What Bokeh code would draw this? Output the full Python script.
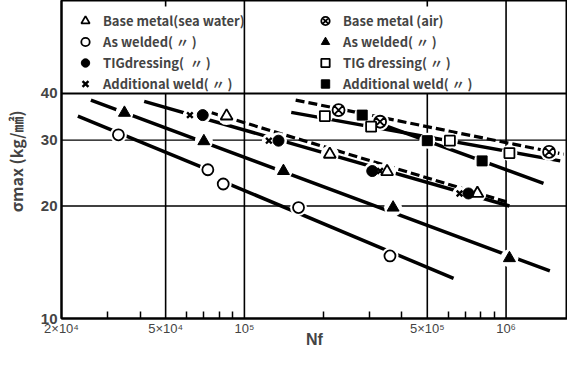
from bokeh.plotting import figure
from bokeh.models import FixedTicker, Legend, LegendItem, Range1d
from bokeh.embed import file_html
from bokeh.resources import INLINE

# ---------------- data ----------------
# sea water
bm_sea_n = [8.55e4, 2.12e5, 3.51e5, 7.77e5]
bm_sea_s = [34.8, 27.5, 24.7, 21.6]
aw_sea_n = [3.3e4, 7.25e4, 8.3e4, 1.61e5, 3.6e5]
aw_sea_s = [31.0, 25.0, 22.9, 19.8, 14.7]
tig_sea_n = [6.93e4, 1.35e5, 3.08e5, 7.18e5]
tig_sea_s = [35.0, 29.9, 24.8, 21.6]
add_sea_n = [6.19e4, 1.24e5, 3.3e5, 6.64e5]
add_sea_s = [35.0, 29.9, 24.8, 21.6]
# air
bm_air_n = [2.29e5, 3.3e5, 1.46e6]
bm_air_s = [36.1, 33.6, 27.9]
aw_air_n = [3.48e4, 7.0e4, 1.41e5, 3.7e5, 1.03e6]
aw_air_s = [35.5, 29.8, 24.8, 19.8, 14.5]
tig_air_n = [2.03e5, 3.05e5, 6.1e5, 1.03e6]
tig_air_s = [34.8, 32.6, 29.9, 27.7]
add_air_n = [2.82e5, 5.0e5, 8.1e5]
add_air_s = [35.0, 29.9, 26.4]

# fitted S-N lines (start / end of each line)
solid_n0 = [2.59e4, 2.31e4, 8.6e4, 4.14e4, 1.51e5, 3.45e5]
solid_n1 = [1.47e6, 7.25e4, 6.3e5, 1.03e6, 1.61e6, 1.39e6]
solid_s0 = [38.4, 34.8, 23.0, 38.1, 35.6, 32.8]
solid_s1 = [13.4, 25.0, 12.8, 20.0, 26.4, 23.0]
dash_n0 = [7.5e4, 1.57e5]
dash_n1 = [1.03e6, 1.66e6]
dash_s0 = [35.5, 38.4]
dash_s1 = [20.4, 27.5]

# axes
x_lo, x_hi = 2e4, 1.717e6
y_lo, y_hi = 10, 70.9
x_ticks = [2e4, 5e4, 1e5, 5e5, 1e6]
x_tick_labels = ["2×10⁴", "5×10⁴", "10⁵", "5×10⁵", "10⁶"]
x_minor = [3e4, 4e4, 6e4, 7e4, 8e4, 9e4, 2e5, 3e5, 4e5, 6e5, 7e5, 8e5, 9e5]
top_ticks = [5e4, 5e5]
y_ticks = [10, 20, 30, 40]
y_tick_labels = ["10", "20", "30", "40"]
grid_short_x = [5e4, 5e5]
grid_long_x = [1e5, 1e6]
grid_y = [20, 30]
legend_box_y = 40

FONT = "Noto Sans CJK JP"
LFONT = "Liberation Sans"
FRAME_W, FRAME_H = 506, 318

p = figure(frame_width=FRAME_W, frame_height=FRAME_H, x_axis_type="log", y_axis_type="log",
           x_range=Range1d(x_lo, x_hi), y_range=Range1d(y_lo, y_hi),
           output_backend="svg", toolbar_location=None,
           min_border_left=54, min_border_right=0, min_border_top=0, min_border_bottom=0)
p.xgrid.visible = False
p.ygrid.visible = False
p.outline_line_color = "black"
p.outline_line_width = 2
p.background_fill_color = "white"
p.border_fill_color = "white"

# axes
xa = p.xaxis[0]
xa.ticker = FixedTicker(ticks=x_ticks, minor_ticks=x_minor)
xa.major_label_overrides = {t: l for t, l in zip(x_ticks, x_tick_labels)}
xa.major_tick_in = 0
xa.major_tick_out = 0
xa.minor_tick_in = 7
xa.minor_tick_out = 0
xa.minor_tick_line_width = 1.5
xa.axis_line_width = 2
xa.major_label_text_font = LFONT
xa.major_label_text_font_size = "13px"
xa.major_label_standoff = 2
xa.axis_label = "Nf"
xa.axis_label_text_font = LFONT
xa.axis_label_text_font_size = "16px"
xa.axis_label_text_font_style = "bold"
xa.axis_label_standoff = -8

ya = p.yaxis[0]
ya.ticker = FixedTicker(ticks=y_ticks, minor_ticks=[])
ya.major_label_overrides = {t: l for t, l in zip(y_ticks, y_tick_labels)}
ya.major_tick_in = 0
ya.major_tick_out = 0
ya.axis_line_width = 2
ya.major_label_text_font = LFONT
ya.major_label_text_font_style = "bold"
ya.major_label_text_font_size = "15px"
ya.major_label_standoff = 4
ya.axis_label = "σmax  (kg/㎟)"
ya.axis_label_text_font = FONT
ya.axis_label_text_font_size = "16px"
ya.axis_label_text_font_style = "bold"
ya.axis_label_standoff = 10

# short inward ticks on the top edge (6 px long)
px_per_decade = FRAME_H / 0.8506
top_tick_end = y_hi * 10 ** (-6 / px_per_decade)
p.segment(x0=top_ticks, x1=top_ticks, y0=[y_hi] * len(top_ticks),
          y1=[top_tick_end] * len(top_ticks), line_color="black", line_width=1.6)

# grid lines
p.segment(x0=grid_short_x, x1=grid_short_x, y0=[y_lo] * len(grid_short_x),
          y1=[legend_box_y] * len(grid_short_x), line_color="black", line_width=1.6)
p.segment(x0=grid_long_x, x1=grid_long_x, y0=[y_lo] * len(grid_long_x),
          y1=[y_hi] * len(grid_long_x), line_color="black", line_width=1.6)
p.segment(x0=[x_lo] * len(grid_y), x1=[x_hi] * len(grid_y), y0=grid_y, y1=grid_y,
          line_color="black", line_width=1.4)
p.segment(x0=[x_lo], x1=[x_hi], y0=[legend_box_y], y1=[legend_box_y],
          line_color="black", line_width=2)

# S-N lines
p.segment(x0=solid_n0, x1=solid_n1, y0=solid_s0, y1=solid_s1,
          line_color="black", line_width=3.5)
p.segment(x0=dash_n0, x1=dash_n1, y0=dash_s0, y1=dash_s1,
          line_color="black", line_width=3.2, line_dash="9 4")

series = [
    (bm_sea_n, bm_sea_s, "triangle", 12, "white", 1.8, "Base metal(sea water)"),
    (aw_sea_n, aw_sea_s, "circle", 11, "white", 1.8, "As welded( 〃 )"),
    (tig_sea_n, tig_sea_s, "circle", 11, "black", 1.0, "TIGdressing(  〃 )"),
    (add_sea_n, add_sea_s, "x", 8, "black", 2.4, "Additional weld( 〃 )"),
    (bm_air_n, bm_air_s, "circle_x", 12, "white", 1.8, "Base metal (air)"),
    (aw_air_n, aw_air_s, "triangle", 12, "black", 1.0, "As welded( 〃 )"),
    (tig_air_n, tig_air_s, "square", 10, "white", 1.8, "TIG dressing( 〃 )"),
    (add_air_n, add_air_s, "square", 10, "black", 1.0, "Additional weld( 〃 )"),
]

# white halos that break the lines around the markers
for n, s, m, size, fill, lw, lab in series:
    p.scatter(n, s, marker="circle", size=size + 6, fill_color="white", line_color=None)

renderers = []
for n, s, m, size, fill, lw, lab in series:
    r = p.scatter(n, s, marker=m, size=size, fill_color=fill, line_color="black", line_width=lw)
    renderers.append((lab, r))


def make_legend(items, loc):
    return Legend(items=[LegendItem(label=l, renderers=[r]) for l, r in items], location=loc,
                  orientation="vertical", glyph_width=24, glyph_height=21, label_height=13,
                  spacing=0, padding=0, margin=0, label_standoff=6,
                  border_line_alpha=0, background_fill_alpha=0,
                  label_text_font=FONT, label_text_font_size="13px",
                  label_text_font_style="bold")


p.add_layout(make_legend(renderers[:4], (12, 224)))
p.add_layout(make_legend(renderers[4:], (252, 224)))

open("out.html", "w").write(file_html(p, INLINE))
